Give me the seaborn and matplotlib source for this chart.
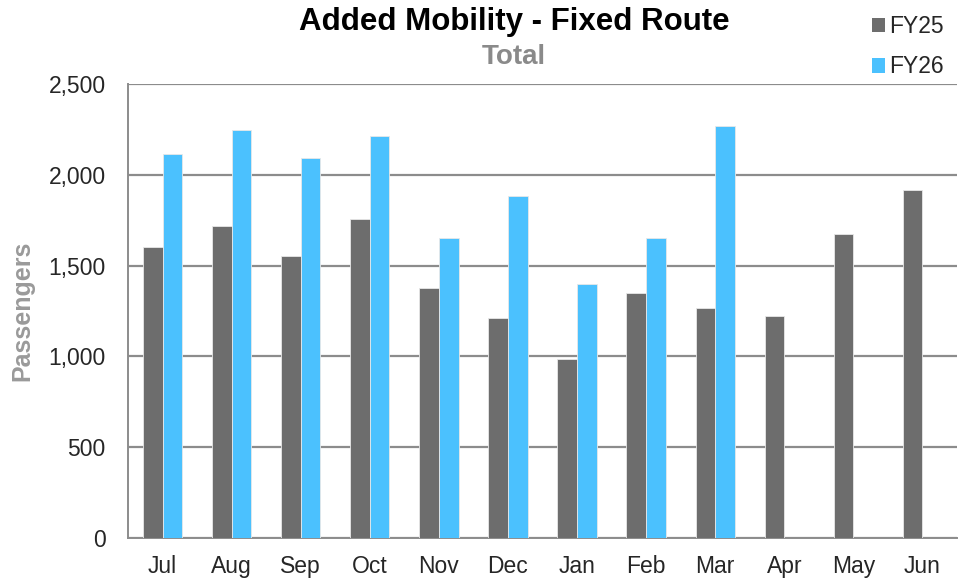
import matplotlib
matplotlib.use("Agg")
import matplotlib.pyplot as plt
from matplotlib.patches import Patch
import numpy as np
import pandas as pd
import seaborn as sns

# ── Data ────────────────────────────────────────────────────────────────────
months = ["Jul", "Aug", "Sep", "Oct", "Nov", "Dec",
          "Jan", "Feb", "Mar", "Apr", "May", "Jun"]
fy25 = [1603, 1720, 1555, 1754, 1379, 1209, 986, 1348, 1267, 1220, 1672, 1914]
fy26 = [2117, 2249, 2091, 2214, 1654, 1886, 1401, 1654, 2271,
        np.nan, np.nan, np.nan]
series = ["FY25", "FY26"]
colors = ["#6D6D6D", "#4BC1FE"]
yticks = [0, 500, 1000, 1500, 2000, 2500]

df = pd.DataFrame({
    "month": months * 2,
    "value": fy25 + fy26,
    "series": [series[0]] * len(months) + [series[1]] * len(months),
})

# ── Styling ─────────────────────────────────────────────────────────────────
sns.set_style("white")
plt.rcParams["font.family"] = ["Liberation Sans", "DejaVu Sans"]

W, H = 967, 583
fig = plt.figure(figsize=(W / 100, H / 100), dpi=100)
ax = fig.add_axes([128 / W, (H - 538) / H, (957 - 128) / W, (538 - 84) / H])

sns.barplot(data=df, x="month", y="value", hue="series", order=months,
            hue_order=series, palette=colors, saturation=1, width=0.57, ax=ax,
            edgecolor="#E8E8E8", linewidth=0.6, legend=False, zorder=3)

grid_c = "#8C8C8C"
ax.set_ylim(0, 2500)
ax.set_yticks(yticks)
ax.set_yticklabels([f"{v:,}" for v in yticks], fontsize=16.5)
ax.yaxis.grid(True, color=grid_c, lw=1.6, zorder=0)
ax.set_xlim(-0.5, len(months) - 0.5)

# Category labels centred, tick marks at boundaries
ax.set_xticks(np.arange(len(months)))
ax.set_xticklabels(months, fontsize=16.5)
ax.tick_params(axis="x", length=0, pad=12)
ax.set_xticks(np.arange(-0.5, len(months)), minor=True)
ax.tick_params(axis="x", which="minor", length=8, width=1.2, color=grid_c)
ax.tick_params(axis="y", length=6, width=1.2, color=grid_c, pad=10)

for side in ["top", "right"]:
    ax.spines[side].set_visible(False)
for side in ["left", "bottom"]:
    ax.spines[side].set_color(grid_c)
    ax.spines[side].set_linewidth(1.4)

ax.set_xlabel("")
ax.set_ylabel("Passengers", fontsize=18, fontweight="bold", color="#9A9A9A",
              labelpad=10)

# Titles
fig.text(514 / W, 1 - 22 / H, "Added Mobility - Fixed Route", ha="center",
         va="center", fontsize=22.5, fontweight="bold", color="black")
fig.text(514 / W, 1 - 57 / H, "Total", ha="center", va="center",
         fontsize=20, fontweight="bold", color="#8A8A8A")

# Legend
handles = [Patch(facecolor=c, edgecolor="none") for c in colors]
fig.legend(handles, series, loc="upper left", bbox_to_anchor=(863 / W, 1 - 6 / H),
           frameon=False, fontsize=16.5, handlelength=0.55, handleheight=0.6,
           handletextpad=0.2, labelspacing=0.75, borderaxespad=0)

fig.savefig("out.png", dpi=100)
